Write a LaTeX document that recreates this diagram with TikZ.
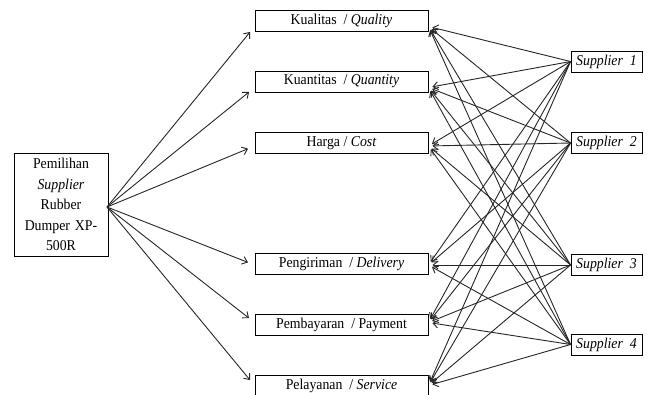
\documentclass[tikz,border=0pt]{standalone}
\usepackage{fontspec}
\setmainfont{Liberation Serif}[FakeStretch=0.92]
\usetikzlibrary{arrows.meta}

\begin{document}
\begin{tikzpicture}[x=1pt,y=-1pt,
  kotak/.style={draw=black,line width=0.9pt,inner sep=0pt,font=\fontsize{15}{20.6}\selectfont},
  krit/.style={kotak,minimum width=173pt,minimum height=21pt},
  supp/.style={kotak,minimum width=71pt,minimum height=21pt},
  panah/.style={-{Straight Barb[length=5pt,width=8pt]},line width=0.9pt,black!85}]
\useasboundingbox (0,0) rectangle (651,394);
% kotak utama
\node[kotak,text width=94pt,minimum height=103pt,align=center] (pilih) at (61,204.5)
  {Pemilihan\\ \textit{Supplier}\\ Rubber\\ Dumper XP-\\ 500R};
% kriteria
\node[krit] (k1) at (341.5,20.5) {Kualitas~ / \textit{Quality}};
\node[krit] (k2) at (341.5,81.5) {Kuantitas~ / \textit{Quantity}};
\node[krit] (k3) at (341.5,143) {Harga / \textit{Cost}};
\node[krit] (k4) at (341.5,264) {Pengiriman~ / \textit{Delivery}};
\node[krit] (k5) at (341.5,324.5) {Pembayaran~ / Payment};
\node[krit] (k6) at (341.5,385.5) {Pelayanan~ / \textit{Service}};
% supplier
\node[supp] (s1) at (606.5,61.5) {\textit{Supplier~ 1}};
\node[supp] (s2) at (606.5,143) {\textit{Supplier~ 2}};
\node[supp] (s3) at (606.5,265) {\textit{Supplier~ 3}};
\node[supp] (s4) at (606.5,344.5) {\textit{Supplier~ 4}};
\coordinate (asal) at (107,207);
\foreach \k/\dy in {1/-6,2/-6,3/-3,4/-1,5/2,6/0}
{
    \draw[panah,shorten >=7pt] (asal) -- ([yshift=\dy pt]k\k.west);
    \foreach \s in {1,...,4}
    {
        \draw[panah,shorten >=4pt] (s\s.west) -- ([yshift=\dy pt]k\k.east);
    }
}
\end{tikzpicture}
\end{document}
